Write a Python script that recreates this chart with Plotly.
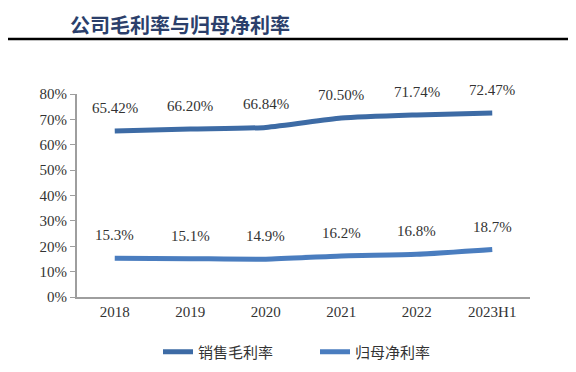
import plotly.graph_objects as go

categories = ["2018", "2019", "2020", "2021", "2022", "2023H1"]
gross_margin = [65.42, 66.20, 66.84, 70.50, 71.74, 72.47]
net_margin = [15.3, 15.1, 14.9, 16.2, 16.8, 18.7]
gross_labels = ["65.42%", "66.20%", "66.84%", "70.50%", "71.74%", "72.47%"]
net_labels = ["15.3%", "15.1%", "14.9%", "16.2%", "16.8%", "18.7%"]
tick_vals = [0, 10, 20, 30, 40, 50, 60, 70, 80]
tick_text = ["0%", "10%", "20%", "30%", "40%", "50%", "60%", "70%", "80%"]

c1 = "#3D6BA5"
c2 = "#4A7DBF"
serif = "Liberation Serif, Times New Roman, serif"
cjk = "Noto Sans CJK SC"

# page body adds an 8px margin, so the figure is 16px smaller and shifted
OFF = 8
W, H = 576 - 2 * OFF, 372 - 2 * OFF
L = 77 - OFF
T = 94 - OFF
R = W - (530 - OFF)
B = H - (297 - OFF)
plot_w = W - L - R
plot_h = H - T - B

fig = go.Figure()
fig.add_trace(go.Scatter(x=categories, y=gross_margin, mode="lines", name="销售毛利率",
                         line=dict(color=c1, width=5, shape="spline", smoothing=0.6)))
fig.add_trace(go.Scatter(x=categories, y=net_margin, mode="lines", name="归母净利率",
                         line=dict(color=c2, width=5, shape="spline", smoothing=0.6)))

annotations = []
for i, (v, t) in enumerate(zip(gross_margin, gross_labels)):
    annotations.append(dict(x=i, y=v, text=t, showarrow=False, yshift=23,
                            font=dict(family=serif, size=15, color="#333333")))
for i, (v, t) in enumerate(zip(net_margin, net_labels)):
    annotations.append(dict(x=i, y=v, text=t, showarrow=False, yshift=23,
                            font=dict(family=serif, size=15, color="#333333")))

annotations.append(dict(xref="paper", yref="paper",
                        x=(68 - OFF - L) / plot_w, y=1 + T / plot_h,
                        xanchor="left", yanchor="top",
                        text="<b>公司毛利率与归母净利率</b>", showarrow=False,
                        font=dict(family=cjk, size=20, color="#2B3F6B")))

rule_y = 1 + (T - (39 - OFF)) / plot_h

fig.update_layout(
    width=W, height=H,
    margin=dict(l=L, r=R, t=T, b=B),
    paper_bgcolor="white", plot_bgcolor="white",
    showlegend=True,
    legend=dict(orientation="h", xref="container", yref="container",
                x=(158 - OFF) / W, xanchor="left",
                y=1 - (352 - OFF) / H, yanchor="middle",
                font=dict(family=cjk, size=15, color="#333333"),
                entrywidth=112, traceorder="normal", bgcolor="rgba(0,0,0,0)"),
    annotations=annotations,
    shapes=[dict(type="line", xref="paper", yref="paper",
                 x0=(8 - OFF - L) / plot_w, x1=(568 - OFF - L) / plot_w,
                 y0=rule_y, y1=rule_y, line=dict(color="black", width=2.5))],
    xaxis=dict(type="category", range=[-0.5, 5.5], showline=True, linecolor="#9E9E9E",
               linewidth=2, ticks="", showgrid=False,
               tickfont=dict(family=serif, size=15, color="#333333"), zeroline=False),
    yaxis=dict(range=[0, 80], tickvals=tick_vals, ticktext=tick_text, showline=True,
               linecolor="#9E9E9E", linewidth=2, ticks="outside", ticklen=5, tickcolor="#9E9E9E",
               showgrid=False, zeroline=False,
               tickfont=dict(family=serif, size=15, color="#333333")),
)

fig.write_html("out.html")
